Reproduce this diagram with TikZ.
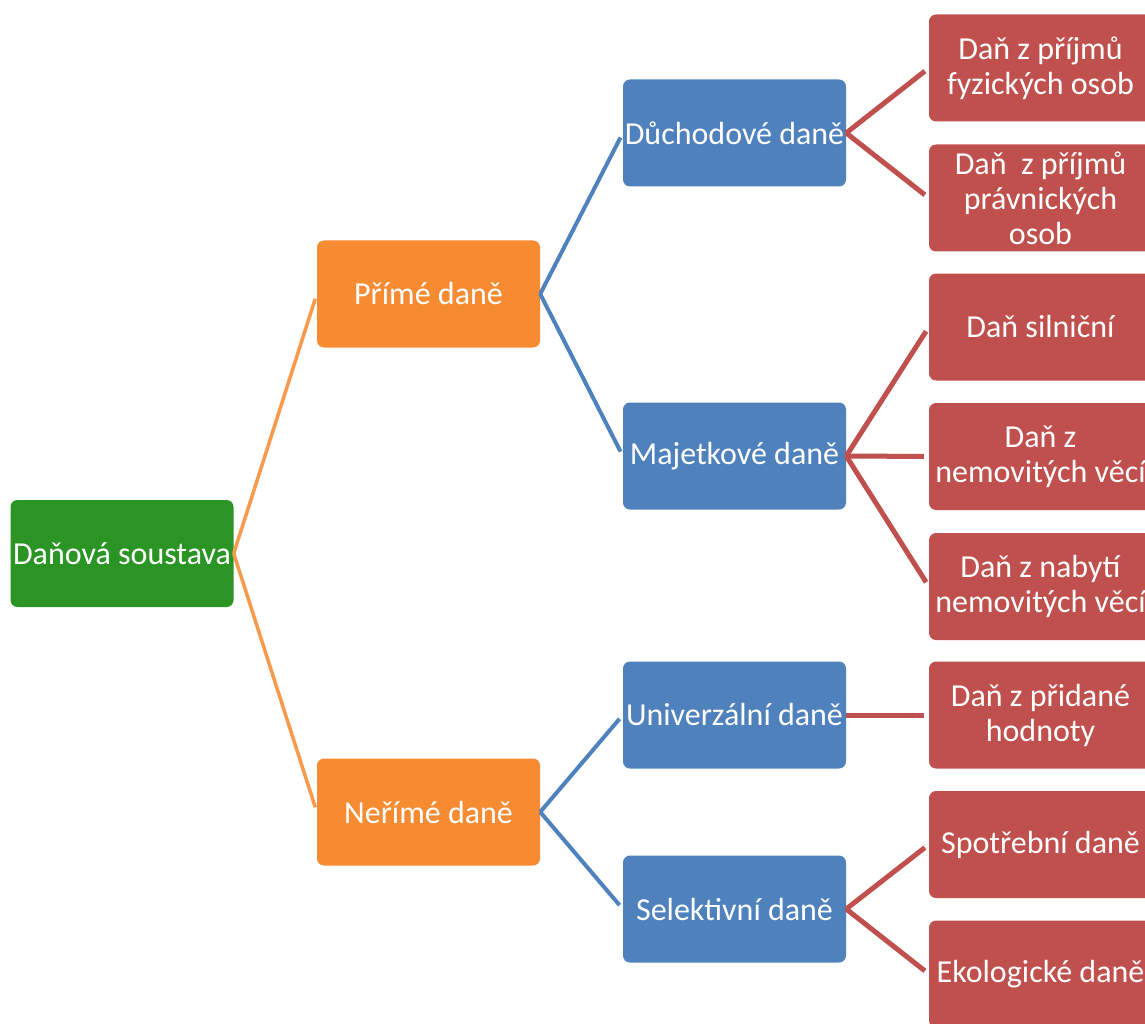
\documentclass[tikz,border=0pt]{standalone}
\usepackage{fontspec}
\setmainfont{Carlito}
\begin{document}
\begin{tikzpicture}[x=1pt,y=-1pt,
  box/.style={rounded corners=7pt, minimum width=223pt, minimum height=107pt, inner sep=0pt, align=center, text=white, font=\fontsize{32}{35}\selectfont},
  gbox/.style={box, fill=boxgreen},
  obox/.style={box, fill=boxorange},
  bbox/.style={box, fill=boxblue},
  rbox/.style={box, fill=boxred},
  conn/.style={shorten >=5pt},
  oline/.style={conn, draw=lineorange, line width=3.5pt},
  bline/.style={conn, draw=boxblue, line width=4pt},
  rline/.style={conn, draw=boxred, line width=5pt}]
\definecolor{boxgreen}{HTML}{2A9524}
\definecolor{boxorange}{HTML}{F68B32}
\definecolor{lineorange}{HTML}{F89A4C}
\definecolor{boxblue}{HTML}{4F81BD}
\definecolor{boxred}{HTML}{C0504D}
\useasboundingbox (0,0) rectangle (1145,1024);
\node[gbox] (root) at (122,553.5) {Daňová soustava};
\node[obox] (prime) at (428.5,294) {Přímé daně};
\node[obox] (neprime) at (428.5,812) {Neřímé daně};
\node[bbox] (duch) at (734.5,133) {Důchodové daně};
\node[bbox] (maj) at (734.5,456) {Majetkové daně};
\node[bbox] (univ) at (734.5,715) {Univerzální daně};
\node[bbox] (sel) at (734.5,909) {Selektivní daně};
\node[rbox] (r1) at (1040.5,68) {Daň z příjmů\\fyzických osob};
\node[rbox] (r2) at (1040.5,198) {Daň\ \ z příjmů\\právnických\\osob};
\node[rbox] (r3) at (1040.5,327) {Daň silniční};
\node[rbox] (r4) at (1040.5,456.5) {Daň z\\nemovitých věcí};
\node[rbox] (r5) at (1040.5,586.5) {Daň z nabytí\\nemovitých věcí};
\node[rbox] (r6) at (1040.5,715) {Daň z přidané\\hodnoty};
\node[rbox] (r7) at (1040.5,844.5) {Spotřební daně};
\node[rbox] (r8) at (1040.5,974) {Ekologické daně};
\draw[oline] (root.east) -- (prime.west);
\draw[oline] (root.east) -- (neprime.west);
\draw[bline] (prime.east) -- (duch.west);
\draw[bline] (prime.east) -- (maj.west);
\draw[bline] (neprime.east) -- (univ.west);
\draw[bline] (neprime.east) -- (sel.west);
\draw[rline] (duch.east) -- (r1.west);
\draw[rline] (duch.east) -- (r2.west);
\draw[rline] (maj.east) -- (r3.west);
\draw[rline] (maj.east) -- (r4.west);
\draw[rline] (maj.east) -- (r5.west);
\draw[rline] (univ.east) -- (r6.west);
\draw[rline] (sel.east) -- (r7.west);
\draw[rline] (sel.east) -- (r8.west);
\end{tikzpicture}
\end{document}
